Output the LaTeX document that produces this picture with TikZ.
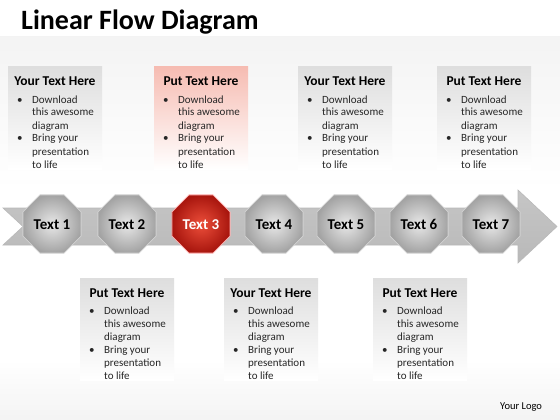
\documentclass[tikz,border=0pt]{standalone}
\usepackage{fontspec}
\setmainfont{Carlito}
\usetikzlibrary{shapes.geometric}
\definecolor{boxgray}{gray}{0.87}
\definecolor{boxpink}{RGB}{246,188,178}
\definecolor{redin}{RGB}{236,78,58}
\definecolor{redout}{RGB}{168,22,14}
\tikzset{
  heading/.style={font=\fontsize{13.5}{16}\selectfont\bfseries, inner sep=0pt},
  bodytext/.style={font=\fontsize{11}{13}\selectfont, inner sep=0pt, text=black!85},
  oct/.style={regular polygon, regular polygon sides=8, minimum size=63pt, inner sep=0pt,
    inner color=gray!18, outer color=gray!72, draw=gray!35, line width=0.8pt,
    text height=10.5pt, text depth=0pt,
    font=\fontsize{15}{18}\selectfont\bfseries},
  octred/.style={oct, inner color=redin, outer color=redout, draw=red!30, text=white},
}
\newcommand\infobox[5]{%
  \fill[top color=#5, bottom color=white] (#2,#3) rectangle ++(94,102);
  \node[heading, anchor=base] (#1t) at ({#2+47},{#3+19}) {#4};
  \node[bodytext, anchor=base west] (#1b) at ({#2+9},{#3+36})
    {\begin{tabular}[t]{@{}p{15pt}@{}l@{}}
      \textbullet & Download\\ & this awesome\\ & diagram\\
      \textbullet & Bring your\\ & presentation\\ & to life
     \end{tabular}};
}
\begin{document}
\begin{tikzpicture}[x=1pt,y=-1pt]
\useasboundingbox (0,0) rectangle (560,420);
\fill[white] (0,0) rectangle (560,420);
\fill[top color=gray!9, bottom color=white] (0,37) rectangle (560,190);
\fill[top color=white, bottom color=gray!9] (0,360) rectangle (560,420);
\node[font=\fontsize{28}{32}\selectfont\bfseries, anchor=base west, inner sep=0pt] (title) at (21,30) {Linear Flow Diagram};

\infobox{b1}{8}{67}{Your Text Here}{boxgray}
\infobox{b2}{154}{67}{Put Text Here}{boxpink}
\infobox{b3}{298}{67}{Your Text Here}{boxgray}
\infobox{b4}{437}{67}{Put Text Here}{boxgray}
\infobox{b5}{80}{278}{Put Text Here}{boxgray}
\infobox{b6}{224}{278}{Your Text Here}{boxgray}
\infobox{b7}{373}{278}{Put Text Here}{boxgray}

% band arrow
\path[top color=gray!45, middle color=gray!8, bottom color=gray!55, draw=gray!55, line width=0.6pt]
  (3,208) -- (518,208) -- (518,190) -- (557,226.5) -- (518,263) -- (518,245) -- (3,245) -- (23,226.5) -- cycle;

\node[oct] (t1) at (52,224) {Text 1};
\node[oct] (t2) at (127,224) {Text 2};
\node[octred] (t3) at (201,224) {Text 3};
\node[oct] (t4) at (274,224) {Text 4};
\node[oct] (t5) at (346,224) {Text 5};
\node[oct] (t6) at (419,224) {Text 6};
\node[oct] (t7) at (491,224) {Text 7};

\node[font=\fontsize{10.5}{12}\selectfont, anchor=base west, inner sep=0pt] (logo) at (500,409) {Your Logo};
\end{tikzpicture}
\end{document}
